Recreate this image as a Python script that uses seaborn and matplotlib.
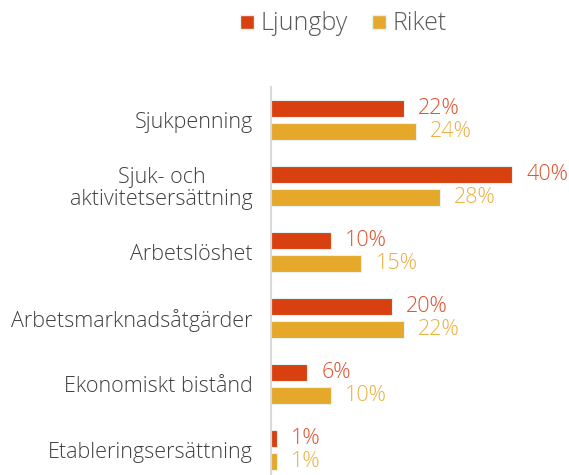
import matplotlib
matplotlib.use("Agg")
import matplotlib.pyplot as plt
import seaborn as sns
import pandas as pd
from matplotlib.lines import Line2D

categories = [
    "Sjukpenning",
    "Sjuk- och\naktivitetsersättning",
    "Arbetslöshet",
    "Arbetsmarknadsåtgärder",
    "Ekonomiskt bistånd",
    "Etableringsersättning",
]
series_names = ["Ljungby", "Riket"]
ljungby = [22, 40, 10, 20, 6, 1]
riket = [24, 28, 15, 22, 10, 1]

bar_colors = ["#D84010", "#E5A82A"]
label_colors = ["#E0502A", "#EBB040"]

df = pd.DataFrame({
    "kategori": categories * 2,
    "serie": [series_names[0]] * len(categories) + [series_names[1]] * len(categories),
    "andel": ljungby + riket,
})

sns.set_theme(style="white")
plt.rcParams["font.family"] = ["Open Sans", "DejaVu Sans"]
FW = "light"

W, H = 569, 475
fig = plt.figure(figsize=(W / 100, H / 100), dpi=100)
ax_left, ax_top, ax_bottom, ax_right = 271, 87, 475, 569
ax = fig.add_axes([ax_left / W, 1 - ax_bottom / H, (ax_right - ax_left) / W, (ax_bottom - ax_top) / H])

sns.barplot(
    data=df, y="kategori", x="andel", hue="serie", order=categories,
    hue_order=series_names, palette=bar_colors, saturation=1, orient="h",
    width=0.70, gap=0.26, edgecolor="#e6f2ef", linewidth=0.8,
    legend=False, ax=ax,
)

ax.set_xlim(0, 49.4)
ax.set_ylim(5.38, -0.5)

# value labels to the right of every bar
for container, color in zip(ax.containers, label_colors):
    for rect in container:
        val = rect.get_width()
        ax.annotate(f"{val:.0f}%", (val, rect.get_y() + rect.get_height() / 2),
                    xytext=(14, 0), textcoords="offset pixels",
                    va="center", ha="left", fontsize=15.5, color=color,
                    fontweight=FW)

ax.set_xlabel("")
ax.set_ylabel("")
ax.set_xticks([])
ax.set_yticks(range(len(categories)))
ax.set_yticklabels(categories, fontsize=15.5, color="#404040", fontweight=FW,
                   multialignment="center", linespacing=1.05)
ax.tick_params(axis="y", length=0, pad=13)
for side in ["top", "right", "bottom"]:
    ax.spines[side].set_visible(False)
ax.spines["left"].set_color("#d9d9d9")
ax.spines["left"].set_linewidth(1.5)

handles = [Line2D([], [], marker="s", linestyle="", markersize=10,
                  markerfacecolor=c, markeredgecolor="#e6f2ef") for c in bar_colors]
fig.legend(handles, series_names, loc="center", bbox_to_anchor=(0.601, 1 - 24 / H),
           ncol=2, frameon=False, handletextpad=0.15, columnspacing=0.85,
           prop={"size": 18, "weight": FW}, labelcolor="#595959",
           handlelength=0.8)

fig.savefig("out.png", dpi=100)
